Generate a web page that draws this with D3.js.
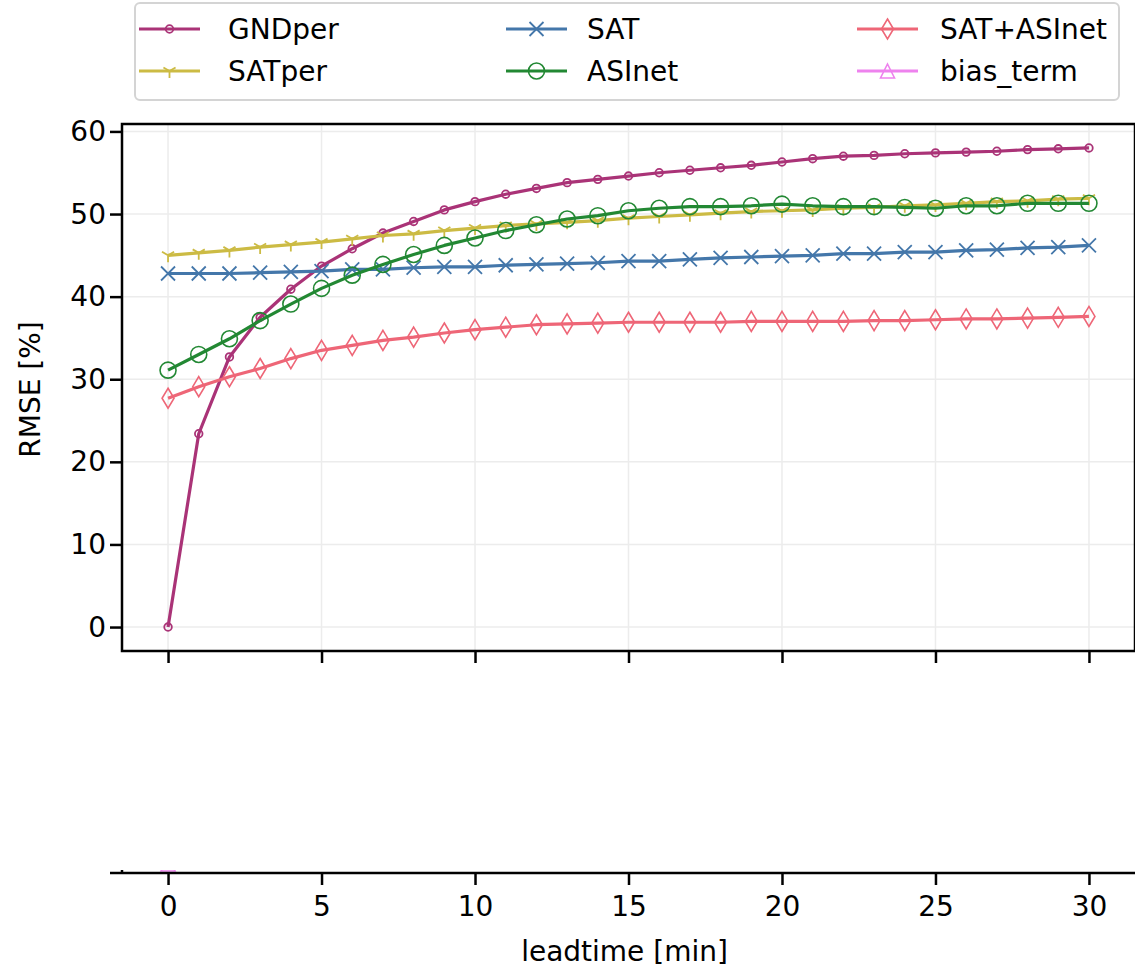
<!DOCTYPE html>
<html>
<head>
<meta charset="utf-8">
<script src="https://cdn.jsdelivr.net/npm/d3@7"></script>
<style>
  html, body { margin: 0; padding: 0; background: #fff; }
  svg { display: block; }
  text { font-family: "DejaVu Sans", sans-serif; fill: #000; }
</style>
</head>
<body>
<svg id="chart" width="1135" height="969"></svg>
<script>
// Lead times (minutes)
const leadtime = [0, 1, 2, 3, 4, 5, 6, 7, 8, 9, 10, 11, 12, 13, 14, 15,
                  16, 17, 18, 19, 20, 21, 22, 23, 24, 25, 26, 27, 28, 29, 30];

// RMSE [%] per model
const GNDper = [0.0, 23.4, 32.7, 37.5, 40.9, 43.7, 45.8, 47.7, 49.1, 50.5, 51.5,
                52.4, 53.1, 53.8, 54.2, 54.6, 55.0, 55.3, 55.6, 55.9, 56.3,
                56.7, 57.0, 57.1, 57.3, 57.4, 57.5, 57.6, 57.8, 57.9, 58.0];
const SATper = [45.0, 45.3, 45.6, 46.0, 46.3, 46.6, 47.0, 47.4, 47.6, 48.0, 48.3,
                48.6, 48.8, 49.0, 49.2, 49.5, 49.7, 49.9, 50.1, 50.3, 50.4,
                50.5, 50.7, 50.8, 51.0, 51.1, 51.3, 51.5, 51.6, 51.8, 51.9];
const SAT = [42.8, 42.8, 42.8, 42.9, 43.0, 43.1, 43.3, 43.3, 43.5, 43.6, 43.6,
             43.8, 43.9, 44.0, 44.1, 44.3, 44.3, 44.5, 44.7, 44.8, 44.9,
             45.0, 45.2, 45.2, 45.4, 45.4, 45.6, 45.7, 45.9, 46.0, 46.2];
const ASInet = [31.1, 33.0, 34.9, 37.1, 39.1, 41.0, 42.6, 43.9, 45.1, 46.2, 47.1,
                48.0, 48.7, 49.4, 49.8, 50.4, 50.7, 50.9, 50.9, 51.0, 51.2,
                51.0, 50.9, 50.9, 50.8, 50.7, 51.0, 51.0, 51.3, 51.3, 51.3];
const SAT_ASInet = [27.7, 29.1, 30.3, 31.3, 32.5, 33.5, 34.1, 34.7, 35.1, 35.6, 36.0,
                    36.3, 36.6, 36.7, 36.8, 36.9, 36.9, 36.9, 36.9, 37.0, 37.0,
                    37.0, 37.0, 37.1, 37.1, 37.2, 37.3, 37.3, 37.4, 37.5, 37.6];

// Bias term: a single value at lead time 0, shown in the lower panel
const biasLeadtime = [0];
const biasTerm = [0.0];

const yTicks = [0, 10, 20, 30, 40, 50, 60];
const xTicks = [0, 5, 10, 15, 20, 25, 30];

const series = [
  { name: "GNDper",     values: GNDper,     color: "#AA3377", marker: "dot" },
  { name: "SATper",     values: SATper,     color: "#CCBB44", marker: "tri_down" },
  { name: "SAT",        values: SAT,        color: "#4477AA", marker: "x" },
  { name: "ASInet",     values: ASInet,     color: "#228833", marker: "circle" },
  { name: "SAT+ASInet", values: SAT_ASInet, color: "#EE6677", marker: "diamond" }
];
const biasSeries = { name: "bias_term", color: "#EE82EE", marker: "triangle" };

const FONT = "28px";
const svg = d3.select("#chart");

// Main panel geometry
const main = { left: 122, right: 1135, top: 124, bottom: 651 };
// Lower (bias) panel: a very thin strip
const low = { left: 122, right: 1135, top: 870, bottom: 873 };

const x = d3.scaleLinear().domain([-1.5, 31.5]).range([main.left, main.right]);
const y = d3.scaleLinear().domain([-2.9, 60.9]).range([main.bottom, main.top]);
const yLow = d3.scaleLinear().domain([-6, -4]).range([low.bottom, low.top]);

// Marker shapes
function drawMarker(g, type, color, cx, cy) {
  switch (type) {
    case "dot":
      g.append("circle").attr("cx", cx).attr("cy", cy).attr("r", 3.8)
        .attr("fill", "none").attr("stroke", color).attr("stroke-width", 1.8);
      break;
    case "circle":
      g.append("circle").attr("cx", cx).attr("cy", cy).attr("r", 8)
        .attr("fill", "none").attr("stroke", color).attr("stroke-width", 1.6);
      break;
    case "x": {
      const h = 7;
      g.append("path")
        .attr("d", `M${cx - h},${cy - h}L${cx + h},${cy + h}M${cx - h},${cy + h}L${cx + h},${cy - h}`)
        .attr("stroke", color).attr("stroke-width", 1.8).attr("fill", "none");
      break;
    }
    case "tri_down": {
      const r = 7;
      const dx = r * 0.866, dy = r * 0.5;
      g.append("path")
        .attr("d", `M${cx},${cy}L${cx},${cy + r}M${cx},${cy}L${cx - dx},${cy - dy}M${cx},${cy}L${cx + dx},${cy - dy}`)
        .attr("stroke", color).attr("stroke-width", 1.8).attr("fill", "none");
      break;
    }
    case "diamond": {
      const w = 6, h = 10;
      g.append("path")
        .attr("d", `M${cx},${cy - h}L${cx + w},${cy}L${cx},${cy + h}L${cx - w},${cy}Z`)
        .attr("stroke", color).attr("stroke-width", 1.6).attr("fill", "none");
      break;
    }
    case "triangle": {
      const h = 7;
      g.append("path")
        .attr("d", `M${cx},${cy - h}L${cx + h},${cy + h}L${cx - h},${cy + h}Z`)
        .attr("stroke", color).attr("stroke-width", 1.6).attr("fill", "none");
      break;
    }
  }
}

// Grid
const grid = svg.append("g");
xTicks.forEach(t => {
  grid.append("line").attr("x1", x(t)).attr("x2", x(t))
    .attr("y1", main.top).attr("y2", main.bottom)
    .attr("stroke", "#ececec").attr("stroke-width", 1.5);
});
yTicks.forEach(t => {
  grid.append("line").attr("x1", main.left).attr("x2", main.right)
    .attr("y1", y(t)).attr("y2", y(t))
    .attr("stroke", "#ececec").attr("stroke-width", 1.5);
});

// Series
const line = d3.line().x((d, i) => x(leadtime[i])).y(d => y(d));
series.forEach(s => {
  const g = svg.append("g");
  g.append("path").datum(s.values).attr("d", line)
    .attr("fill", "none").attr("stroke", s.color).attr("stroke-width", 3.2)
    .attr("stroke-linejoin", "round");
  s.values.forEach((v, i) => drawMarker(g, s.marker, s.color, x(leadtime[i]), y(v)));
});

// Main panel axes
const axisStyle = g => {
  g.select(".domain").remove();
  g.selectAll(".tick line").attr("stroke", "#000").attr("stroke-width", 2.5);
  g.selectAll(".tick text").attr("font-size", FONT)
    .attr("font-family", "DejaVu Sans, sans-serif").attr("fill", "#000");
};

svg.append("g").attr("transform", `translate(${main.left},0)`)
  .call(d3.axisLeft(y).tickValues(yTicks).tickSize(12).tickPadding(4))
  .call(axisStyle);

svg.append("g").attr("transform", `translate(0,${main.bottom})`)
  .call(d3.axisBottom(x).tickValues(xTicks).tickSize(12).tickFormat(() => ""))
  .call(axisStyle);

// Main frame
svg.append("rect")
  .attr("x", main.left).attr("y", main.top)
  .attr("width", main.right - main.left).attr("height", main.bottom - main.top)
  .attr("fill", "none").attr("stroke", "#000").attr("stroke-width", 2.5);

// Lower panel: bias term clipped to its thin strip
svg.append("clipPath").attr("id", "lowclip")
  .append("rect").attr("x", low.left).attr("y", low.top)
  .attr("width", low.right - low.left).attr("height", low.bottom - low.top);
const lowG = svg.append("g").attr("clip-path", "url(#lowclip)");
biasTerm.forEach((v, i) => drawMarker(lowG, biasSeries.marker, biasSeries.color, x(biasLeadtime[i]), yLow(v)));

svg.append("line").attr("x1", low.left).attr("x2", low.left)
  .attr("y1", low.top).attr("y2", low.bottom)
  .attr("stroke", "#000").attr("stroke-width", 2.5);
svg.append("line").attr("x1", low.left - 12).attr("x2", low.left)
  .attr("y1", low.bottom).attr("y2", low.bottom)
  .attr("stroke", "#000").attr("stroke-width", 2.5);
svg.append("line").attr("x1", low.left).attr("x2", low.right)
  .attr("y1", low.bottom).attr("y2", low.bottom)
  .attr("stroke", "#000").attr("stroke-width", 2.5);

svg.append("g").attr("transform", `translate(0,${low.bottom})`)
  .call(d3.axisBottom(x).tickValues(xTicks).tickSize(12).tickPadding(11).tickFormat(d3.format("d")))
  .call(axisStyle);

// Axis labels
svg.append("text")
  .attr("x", (main.left + main.right) / 2 - 4).attr("y", 961)
  .attr("text-anchor", "middle").attr("font-size", FONT)
  .text("leadtime [min]");
svg.append("text")
  .attr("transform", `translate(40,${(main.top + main.bottom) / 2 + 2}) rotate(-90)`)
  .attr("text-anchor", "middle").attr("font-size", FONT)
  .text("RMSE [%]");

// Legend
const legend = svg.append("g");
legend.append("rect")
  .attr("x", 135).attr("y", 3).attr("width", 984).attr("height", 97)
  .attr("rx", 5).attr("ry", 5)
  .attr("fill", "#fff").attr("stroke", "#d4d4d4").attr("stroke-width", 2);

const legendItems = [series[0], series[1], series[2], series[3], series[4], biasSeries];
const handleX = [139, 506, 857];
const textX = [228, 587, 940];
const rowY = [29, 71];
legendItems.forEach((s, i) => {
  const col = Math.floor(i / 2), row = i % 2;
  const lx = handleX[col], ly = rowY[row];
  legend.append("line").attr("x1", lx).attr("x2", lx + 61)
    .attr("y1", ly).attr("y2", ly)
    .attr("stroke", s.color).attr("stroke-width", 3.2);
  drawMarker(legend, s.marker, s.color, lx + 30.5, ly);
  legend.append("text").attr("x", textX[col]).attr("y", ly + 10)
    .attr("font-size", FONT).text(s.name);
});
</script>
</body>
</html>
